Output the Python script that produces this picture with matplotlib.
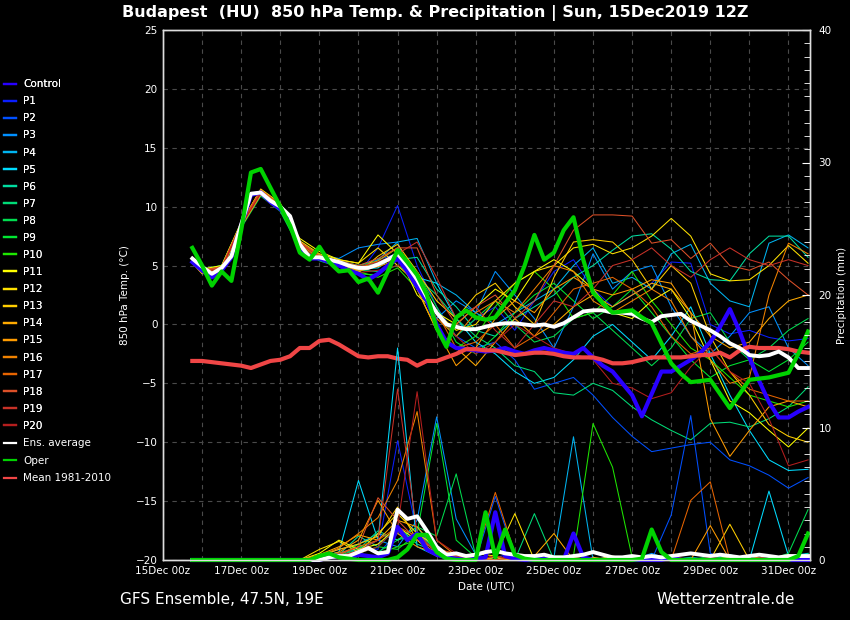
import numpy as np
import matplotlib
matplotlib.use("Agg")
import matplotlib.pyplot as plt
from matplotlib.lines import Line2D

# forecast hours since 15Dec 00z
hours_6h = np.arange(18, 397, 6)
hours_members = np.array([18, 24, 36, 48, 60, 72, 84, 96, 108, 120, 132, 144, 156, 168, 180, 192, 204,
                          216, 228, 240, 252, 264, 276, 288, 300, 312, 324, 336, 348, 360, 372, 384, 396])

date_labels = ["15Dec 00z", "17Dec 00z", "19Dec 00z", "21Dec 00z", "23Dec 00z",
               "25Dec 00z", "27Dec 00z", "29Dec 00z", "31Dec 00z"]

# 850 hPa temperature (6-hourly)
ens_avg_t = [5.6, 4.9, 4.3, 4.8, 5.8, 8.5, 11.1, 11.2, 10.5, 10.0,
             9.2, 6.8, 5.7, 5.7, 5.5, 5.3, 5.0, 4.8, 4.8, 5.1,
             5.5, 6.0, 5.0, 3.8, 2.3, 1.0, 0.0, -0.2, -0.4, -0.4,
             -0.2, 0.0, 0.1, 0.1, 0.0, -0.1, 0.0, -0.2, 0.1, 0.6,
             1.1, 1.2, 1.2, 1.0, 1.0, 0.9, 0.5, 0.2, 0.7, 0.8,
             0.9, 0.3, -0.1, -0.5, -1.0, -1.6, -2.0, -2.6, -2.7, -2.6,
             -2.3, -2.8, -3.7, -3.7]
oper_t = [6.5, 5.0, 3.3, 4.5, 3.7, 8.0, 12.9, 13.2, 11.6, 10.0,
          8.4, 6.1, 5.5, 6.6, 5.3, 4.5, 4.6, 3.6, 3.9, 2.7,
          4.5, 6.3, 5.3, 4.2, 2.5, -0.3, -1.9, 0.6, 1.2, 0.6,
          0.4, 0.6, 1.8, 2.9, 5.0, 7.6, 5.5, 6.1, 8.0, 9.1,
          5.5, 2.7, 1.8, 1.0, 1.1, 1.2, 0.6, 0.1, -1.6, -3.3,
          -4.2, -4.9, -4.8, -4.7, -5.9, -7.1, -5.9, -4.7, -4.6, -4.5,
          -4.3, -4.1, -2.5, -0.6]
control_t = [5.3, 4.6, 4.0, 4.6, 5.7, 8.4, 11.0, 11.2, 10.4, 9.8,
             9.0, 6.5, 5.6, 5.6, 5.3, 5.0, 4.6, 4.3, 3.8, 4.3,
             5.0, 5.6, 4.5, 3.2, 2.0, 0.0, -1.5, -2.0, -2.1, -2.2,
             -2.3, -2.2, -2.0, -2.3, -2.5, -2.2, -2.0, -2.2, -2.4, -2.5,
             -2.0, -2.8, -3.5, -4.0, -5.0, -6.0, -7.8, -5.9, -4.0, -4.0,
             -3.5, -3.0, -2.4, -1.5, -0.2, 1.3, -0.6, -2.8, -4.8, -6.6,
             -7.9, -7.9, -7.4, -7.0]
clim_mean_t = [-3.1, -3.1, -3.2, -3.3, -3.4, -3.5, -3.7, -3.4, -3.1, -3.0,
               -2.7, -2.0, -2.0, -1.4, -1.3, -1.7, -2.2, -2.7, -2.8, -2.7,
               -2.7, -2.9, -3.0, -3.5, -3.1, -3.1, -2.8, -2.5, -2.1, -2.1,
               -2.2, -2.2, -2.4, -2.6, -2.5, -2.4, -2.4, -2.5, -2.7, -2.8,
               -2.8, -2.8, -3.0, -3.3, -3.3, -3.2, -3.0, -2.8, -2.8, -2.8,
               -2.8, -2.7, -2.6, -2.6, -2.4, -2.8, -2.2, -1.9, -2.0, -2.0,
               -2.0, -2.1, -2.3, -2.4]

# precipitation (mm / 6h)
ens_avg_p = [0.0, 0.0, 0.0, 0.0, 0.0, 0.0, 0.0, 0.0, 0.0, 0.0, 0.0, 0.0, 0.0,
             0.0, 0.2, 0.3, 0.3, 0.6, 0.9, 0.5, 0.6, 3.8, 3.1,
             3.3, 2.2, 1.0, 0.4, 0.5, 0.3, 0.4, 0.6, 0.7, 0.5,
             0.4, 0.3, 0.3, 0.4, 0.2, 0.2, 0.3, 0.4, 0.6, 0.4,
             0.2, 0.2, 0.3, 0.2, 0.3, 0.2, 0.3, 0.4, 0.5, 0.4,
             0.3, 0.4, 0.3, 0.2, 0.3, 0.4, 0.3, 0.2, 0.3, 0.3,
             0.3]
oper_p = [0.0, 0.0, 0.0, 0.0, 0.0, 0.0, 0.0, 0.0, 0.0, 0.0, 0.0, 0.0, 0.0,
          0.3, 0.5, 0.2, 0.1, 0.0, 0.0, 0.0, 0.0, 0.2, 0.8,
          1.9, 1.9, 0.6, 0.1, 0.0, 0.0, 0.0, 3.6, 0.2, 2.3,
          0.4, 0.1, 0.0, 0.0, 0.0, 0.0, 0.0, 0.0, 0.0, 0.0,
          0.0, 0.0, 0.0, 0.1, 2.3, 0.6, 0.0, 0.0, 0.0, 0.0,
          0.0, 0.0, 0.0, 0.0, 0.0, 0.0, 0.0, 0.0, 0.0, 0.3,
          2.0]
control_p = [0.0, 0.0, 0.0, 0.0, 0.0, 0.0, 0.0, 0.0, 0.0, 0.0, 0.0, 0.0, 0.0,
             0.0, 0.2, 0.3, 0.1, 0.4, 0.3, 0.2, 0.5, 2.5, 1.5,
             2.0, 0.8, 0.4, 0.2, 0.1, 0.0, 0.1, 0.2, 3.6, 0.3,
             0.1, 0.0, 0.0, 0.1, 0.0, 0.0, 2.0, 0.2, 0.0, 0.0,
             0.0, 0.1, 0.0, 0.0, 0.0, 0.0, 0.2, 0.0, 0.0, 0.0,
             0.0, 0.0, 0.0, 0.1, 0.0, 0.0, 0.0, 0.0, 0.0, 0.0,
             0.0]

# perturbed members, temperature (12-hourly)
p1_t = [5.6, 4.5, 4.9, 8.6, 11.3, 10.2, 7.0, 5.8, 5.0, 4.3, 6.5, 10.1, 5.0, 1.5, -1.0, 0.5, 1.5,
        -0.5, 2.0, 4.5, 5.5, 3.0, 1.5, 2.5, 3.5, 5.3, 5.2, 0.0, -0.8, -0.5, -1.1, -1.4, -1.2]
p2_t = [5.4, 4.4, 4.7, 8.4, 11.0, 9.8, 6.6, 5.6, 5.4, 5.0, 5.5, 6.0, 4.0, 1.0, -1.0, -2.0, -1.5,
        -3.0, -5.5, -5.0, -4.5, -6.0, -7.9, -9.5, -10.8, -10.5, -10.2, -10.0, -11.5, -12.0, -12.8, -13.9, -13.0]
p3_t = [5.5, 4.6, 5.0, 8.6, 11.4, 10.1, 6.9, 5.9, 5.6, 6.5, 6.8, 7.0, 3.0, 0.5, 2.0, 1.0, 4.5,
        2.5, 0.5, -2.0, 1.5, 6.0, 3.0, 4.5, 5.0, 1.5, -1.0, -2.5, -1.0, 1.0, 1.5, -2.0, -3.5]
p4_t = [5.3, 4.3, 4.6, 8.3, 11.0, 9.8, 6.5, 5.5, 5.0, 4.5, 5.5, 7.0, 7.3, 3.5, 2.5, 1.0, 0.0,
        1.0, 2.0, 3.0, 5.0, 6.5, 3.5, 4.0, 3.0, 6.0, 6.8, 3.5, 2.0, 1.5, 6.9, 7.6, 6.5]
p5_t = [5.6, 4.5, 4.8, 8.5, 11.1, 9.9, 6.7, 5.8, 5.3, 4.7, 4.8, 6.0, 4.0, 3.5, 0.5, -1.5, -2.5,
        -4.0, -5.0, -4.5, -3.0, -1.0, 0.0, -1.5, -3.0, -1.0, 1.5, -2.5, -6.0, -9.0, -11.5, -12.4, -12.3]
p6_t = [5.4, 4.5, 4.7, 8.4, 11.0, 9.7, 6.6, 5.6, 5.1, 4.9, 5.2, 5.5, 5.7, 3.0, 1.5, -0.5, -1.0,
        0.5, 1.5, 2.5, 4.0, 5.0, 6.3, 7.5, 7.7, 6.4, 4.5, 3.8, 3.7, 6.0, 7.5, 7.5, 5.7]
p7_t = [5.5, 4.6, 4.9, 8.5, 11.2, 10.0, 6.8, 5.6, 5.2, 4.6, 4.5, 5.0, 4.0, 2.5, 0.5, -1.0, -2.0,
        -3.5, -4.0, -5.8, -6.0, -5.0, -5.6, -7.0, -8.1, -9.0, -9.8, -8.4, -8.3, -8.7, -8.0, -7.0, -5.3]
p8_t = [5.3, 4.4, 4.6, 8.2, 10.9, 9.6, 6.4, 5.4, 4.9, 4.3, 4.2, 5.5, 3.5, 1.0, -1.0, 0.5, 2.0,
        0.0, -1.5, -1.0, 0.5, 1.0, -0.5, -2.0, -3.5, -2.0, 0.5, 1.0, -1.5, -3.0, -2.0, -0.5, 0.5]
p9_t = [5.6, 4.7, 5.0, 8.6, 11.3, 10.1, 6.9, 5.8, 5.4, 5.0, 5.4, 6.5, 4.5, 1.5, -1.5, -2.5, -1.0,
        1.0, 2.5, 3.5, 2.0, 0.5, 1.5, 3.0, 1.0, -1.0, -3.0, -4.5, -3.5, -3.0, -4.0, -3.0, -1.5]
p10_t = [5.4, 4.5, 4.8, 8.4, 11.1, 9.9, 6.7, 5.7, 5.3, 4.5, 4.0, 4.8, 3.0, -0.5, -2.0, -1.0, 1.5,
         3.5, 4.5, 3.0, 0.5, 1.0, 2.5, 4.5, 2.0, 0.0, -2.0, -3.0, -4.5, -6.0, -6.5, -7.0, -6.5]
p11_t = [5.7, 4.7, 5.0, 8.7, 11.4, 10.1, 7.3, 6.2, 5.5, 5.2, 7.6, 6.0, 2.5, 1.0, 0.0, 1.5, 3.0,
         2.0, 4.5, 5.5, 4.5, 3.0, 1.0, 0.5, 2.0, 3.0, 0.5, -3.0, -6.5, -7.5, -9.0, -10.4, -8.8]
p12_t = [5.5, 4.6, 4.9, 8.6, 11.5, 10.3, 7.1, 6.0, 5.5, 5.2, 6.5, 5.0, 3.5, 1.0, -0.5, 0.0, 2.0,
         3.5, 4.5, 5.0, 6.5, 6.8, 6.0, 6.5, 7.5, 9.0, 7.5, 4.3, 3.7, 3.8, 5.0, 6.7, 5.2]
p13_t = [5.4, 4.5, 4.8, 8.5, 11.3, 10.0, 6.9, 5.7, 5.0, 4.4, 5.8, 6.8, 4.5, 2.0, 0.5, 2.5, 3.5,
         1.5, 0.0, 4.0, 7.0, 7.2, 7.0, 5.5, 3.0, 5.0, 3.5, -1.0, -4.0, -6.0, -8.5, -9.5, -10.0]
p14_t = [5.2, 4.3, 4.6, 8.3, 11.0, 9.8, 6.6, 5.6, 5.1, 4.5, 5.0, 6.0, 3.0, -0.5, -2.0, -3.5, -1.5,
         0.5, -1.0, 0.0, 1.5, 2.5, 1.5, 2.5, 3.5, 3.0, 1.0, -1.0, -2.0, -1.5, 0.5, 2.0, 2.5]
p15_t = [5.3, 4.4, 4.7, 8.4, 11.1, 9.9, 6.8, 5.7, 5.1, 4.6, 4.9, 5.5, 3.0, -0.5, -3.5, -2.0, 0.5,
         2.0, 1.0, 3.0, 4.0, 3.0, 2.5, 3.0, 3.8, 3.5, 1.0, -8.0, -11.2, -9.0, -7.0, -6.5, -7.0]
p16_t = [5.5, 4.6, 4.9, 8.6, 11.4, 10.2, 7.0, 5.9, 5.3, 4.8, 5.4, 6.5, 3.5, 0.5, -1.0, 1.0, 2.0,
         1.0, 3.0, 5.0, 4.5, 2.0, 1.0, 2.0, 3.0, 2.0, -1.0, -3.0, -5.0, -4.5, 2.5, 6.9, 6.0]
p17_t = [5.4, 4.5, 4.8, 8.5, 11.2, 10.0, 6.8, 5.8, 5.2, 4.7, 5.2, 5.5, 4.0, 1.0, -2.0, -1.5, 0.0,
         -2.0, -1.0, 1.0, 3.0, 3.5, 4.0, 3.0, 1.5, -1.0, -2.5, -2.0, -4.0, -5.5, -6.0, -6.5, -6.5]
p18_t = [5.6, 4.6, 4.9, 8.6, 11.4, 10.2, 7.0, 5.8, 5.4, 5.0, 5.6, 6.5, 6.5, 2.5, 0.0, 1.5, 2.5,
         0.5, 2.0, 5.0, 8.0, 9.3, 9.3, 9.2, 6.9, 7.2, 5.6, 6.9, 5.0, 4.6, 5.3, 3.8, 2.5]
p19_t = [5.5, 4.5, 4.8, 8.5, 11.2, 10.0, 6.9, 5.7, 5.3, 4.9, 5.3, 6.0, 7.0, 4.0, 0.5, 1.5, -0.5,
         -2.0, 0.0, 2.0, 1.5, 3.0, 5.0, 5.5, 6.5, 5.0, 4.0, 5.5, 6.5, 5.5, 5.0, 5.5, 5.0]
p20_t = [5.3, 4.4, 4.7, 8.4, 11.1, 9.9, 6.7, 5.5, 5.0, 4.4, 4.6, 5.0, 4.5, 1.0, -1.0, -2.5, -1.5,
         0.0, -1.0, -2.0, -2.5, -3.0, -5.0, -5.4, -6.3, -5.8, -3.6, -2.0, -4.0, -5.0, -8.0, -12.0, -11.5]

# perturbed members, precipitation (12-hourly)
p1_p = [0.0, 0.0, 0.0, 0.0, 0.0, 0.0, 0.0, 0.2, 0.5, 1.0, 0.8, 9.0, 2.0, 0.5, 0.3, 0.0, 0.2,
        0.5, 0.0, 0.0, 0.0, 0.0, 0.3, 0.0, 0.0, 0.0, 0.2, 0.0, 0.0, 0.0, 0.0, 0.0, 0.0]
p2_p = [0.0, 0.0, 0.0, 0.0, 0.0, 0.0, 0.0, 0.3, 0.8, 1.2, 0.5, 2.0, 1.5, 0.8, 0.2, 0.0, 4.8,
        0.3, 0.0, 0.0, 0.0, 0.0, 0.0, 0.0, 0.0, 3.4, 10.9, 0.5, 0.0, 0.0, 0.0, 0.0, 0.2]
p3_p = [0.0, 0.0, 0.0, 0.0, 0.0, 0.0, 0.0, 0.0, 0.5, 0.8, 1.5, 1.0, 3.0, 10.8, 3.1, 0.4, 0.0,
        0.3, 0.0, 0.0, 0.2, 0.0, 0.0, 0.0, 0.5, 0.0, 0.0, 0.0, 0.0, 0.3, 0.0, 0.0, 0.0]
p4_p = [0.0, 0.0, 0.0, 0.0, 0.0, 0.0, 0.0, 0.0, 0.3, 1.2, 2.0, 1.5, 2.5, 0.5, 0.2, 0.3, 0.0,
        0.0, 0.0, 0.2, 9.3, 0.0, 0.0, 0.0, 0.0, 0.0, 0.0, 0.0, 0.2, 0.0, 0.0, 0.3, 0.5]
p5_p = [0.0, 0.0, 0.0, 0.0, 0.0, 0.0, 0.0, 0.2, 0.6, 6.0, 1.5, 16.0, 1.0, 0.3, 0.5, 0.2, 0.0,
        0.4, 0.0, 0.0, 0.0, 0.0, 0.0, 0.0, 0.0, 0.2, 0.0, 0.0, 0.0, 0.0, 5.2, 0.3, 0.0]
p6_p = [0.0, 0.0, 0.0, 0.0, 0.0, 0.0, 0.0, 0.0, 0.4, 1.8, 1.0, 2.5, 1.2, 0.6, 0.0, 0.3, 0.0,
        0.0, 0.2, 0.0, 0.0, 0.0, 0.0, 0.3, 0.0, 0.0, 0.0, 0.0, 0.4, 0.0, 0.0, 0.0, 0.5]
p7_p = [0.0, 0.0, 0.0, 0.0, 0.0, 0.0, 0.0, 0.0, 0.3, 0.8, 2.2, 1.5, 2.0, 0.8, 0.2, 0.0, 0.3,
        0.0, 3.5, 0.0, 0.0, 0.0, 0.0, 0.0, 0.0, 0.0, 0.2, 0.0, 0.0, 0.3, 0.0, 0.0, 0.0]
p8_p = [0.0, 0.0, 0.0, 0.0, 0.0, 0.0, 0.0, 0.0, 0.2, 1.0, 0.6, 1.5, 2.5, 1.8, 6.5, 0.3, 0.0,
        0.2, 0.0, 0.0, 0.0, 0.0, 0.0, 0.0, 0.0, 0.0, 0.0, 0.3, 0.0, 0.0, 0.0, 0.5, 3.8]
p9_p = [0.0, 0.0, 0.0, 0.0, 0.0, 0.0, 0.0, 0.0, 0.4, 0.5, 1.0, 0.8, 2.0, 10.3, 1.5, 0.2, 0.0,
        0.0, 0.0, 0.3, 0.0, 0.0, 0.0, 0.0, 0.2, 0.0, 0.0, 0.0, 0.0, 0.0, 0.0, 0.0, 0.2]
p10_p = [0.0, 0.0, 0.0, 0.0, 0.0, 0.0, 0.0, 0.0, 0.3, 1.2, 0.5, 1.0, 1.5, 0.8, 0.3, 0.0, 0.2,
         0.0, 0.0, 0.3, 0.3, 10.3, 7.0, 0.2, 0.0, 0.0, 0.0, 0.0, 0.3, 0.0, 0.0, 0.0, 0.0]
p11_p = [0.0, 0.0, 0.0, 0.0, 0.0, 0.0, 0.0, 0.5, 1.5, 0.8, 1.2, 2.5, 1.5, 0.3, 0.0, 0.2, 0.0,
         0.0, 0.0, 0.0, 0.0, 0.0, 0.3, 0.0, 0.0, 0.0, 0.0, 0.0, 0.2, 0.0, 0.0, 0.0, 0.0]
p12_p = [0.0, 0.0, 0.0, 0.0, 0.0, 0.0, 0.0, 0.8, 1.4, 0.6, 2.0, 3.5, 2.0, 1.0, 0.2, 0.5, 0.3,
         3.5, 0.0, 0.0, 0.0, 0.0, 0.0, 0.2, 0.0, 0.0, 0.0, 0.0, 0.0, 0.0, 0.0, 0.4, 0.0]
p13_p = [0.0, 0.0, 0.0, 0.0, 0.0, 0.0, 0.0, 0.3, 0.8, 1.2, 1.8, 4.0, 1.5, 0.5, 0.0, 0.3, 0.0,
         0.5, 0.0, 0.0, 0.0, 0.2, 0.0, 0.0, 0.0, 0.0, 0.0, 0.0, 2.7, 0.0, 0.0, 0.0, 0.0]
p14_p = [0.0, 0.0, 0.0, 0.0, 0.0, 0.0, 0.0, 0.4, 1.0, 1.9, 1.5, 3.0, 2.5, 0.8, 0.3, 0.0, 0.2,
         0.0, 0.3, 2.0, 0.0, 0.0, 0.0, 0.0, 0.0, 0.2, 0.0, 0.0, 0.0, 0.0, 0.0, 0.0, 0.0]
p15_p = [0.0, 0.0, 0.0, 0.0, 0.0, 0.0, 0.0, 0.2, 0.6, 1.5, 4.5, 2.0, 1.0, 0.5, 0.2, 0.0, 0.0,
         0.2, 0.0, 0.0, 0.0, 0.0, 0.0, 0.0, 0.0, 0.0, 0.0, 2.6, 0.0, 0.0, 0.0, 0.0, 0.0]
p16_p = [0.0, 0.0, 0.0, 0.0, 0.0, 0.0, 0.0, 0.3, 0.9, 2.0, 3.2, 6.0, 11.2, 1.5, 0.3, 0.2, 0.0,
         0.0, 0.0, 0.0, 0.2, 0.0, 0.0, 0.0, 0.0, 0.0, 0.0, 0.0, 0.0, 0.3, 0.0, 0.0, 0.0]
p17_p = [0.0, 0.0, 0.0, 0.0, 0.0, 0.0, 0.0, 0.0, 0.5, 1.0, 1.5, 2.5, 1.8, 0.6, 0.2, 0.3, 5.1,
         0.5, 0.0, 0.0, 0.0, 0.0, 0.0, 0.0, 0.0, 0.0, 4.5, 5.9, 0.0, 0.0, 0.0, 0.0, 0.0]
p18_p = [0.0, 0.0, 0.0, 0.0, 0.0, 0.0, 0.0, 0.0, 0.4, 1.0, 4.7, 3.0, 1.5, 0.8, 0.5, 0.0, 0.3,
         0.0, 0.0, 0.0, 0.0, 0.0, 0.2, 0.0, 0.0, 0.0, 0.0, 0.0, 0.0, 0.0, 0.3, 0.0, 0.0]
p19_p = [0.0, 0.0, 0.0, 0.0, 0.0, 0.0, 0.0, 0.0, 0.3, 0.7, 1.5, 12.9, 2.0, 0.6, 0.3, 0.0, 0.0,
         0.2, 0.0, 0.0, 0.0, 0.0, 0.0, 0.0, 0.0, 0.3, 0.0, 0.0, 0.0, 0.0, 0.0, 0.0, 0.0]
p20_p = [0.0, 0.0, 0.0, 0.0, 0.0, 0.0, 0.0, 0.0, 0.2, 0.5, 1.0, 2.5, 12.7, 1.5, 0.5, 0.0, 0.3,
         0.0, 0.0, 0.0, 0.0, 0.0, 0.0, 0.0, 0.0, 0.0, 0.0, 0.2, 0.0, 0.0, 0.0, 0.0, 0.0]

member_names = ["P%d" % i for i in range(1, 21)]
member_t = [p1_t, p2_t, p3_t, p4_t, p5_t, p6_t, p7_t, p8_t, p9_t, p10_t,
            p11_t, p12_t, p13_t, p14_t, p15_t, p16_t, p17_t, p18_t, p19_t, p20_t]
member_p = [p1_p, p2_p, p3_p, p4_p, p5_p, p6_p, p7_p, p8_p, p9_p, p10_p,
            p11_p, p12_p, p13_p, p14_p, p15_p, p16_p, p17_p, p18_p, p19_p, p20_p]
member_colors = ["#0a1eff", "#0050ff", "#0090ff", "#00b4f0", "#00dcff",
                 "#00dca0", "#00dc78", "#00dc50", "#00e632", "#1ee600",
                 "#ffff00", "#ffe100", "#ffcd00", "#ffaa00", "#ff9b00",
                 "#f08200", "#e66400", "#dc5028", "#c83228", "#b41e1e"]
control_color = "#2800ff"
oper_color = "#00d200"
clim_color = "#f04646"

fig = plt.figure(figsize=(8.5, 6.2), dpi=100, facecolor="black")
ax = fig.add_axes([163 / 850, 60 / 620, 647 / 850, 530 / 620])
ax.set_facecolor("black")
ax2 = ax.twinx()

days6 = hours_6h / 24.0
days12 = hours_members / 24.0

# temperature
for vals, col in zip(member_t, member_colors):
    ax.plot(days12, vals, color=col, lw=0.75)
ax.plot(days6, control_t, color=control_color, lw=3.0)
ax.plot(days6, clim_mean_t, color=clim_color, lw=3.0)
ax.plot(days6, ens_avg_t, color="white", lw=2.8)
ax.plot(days6, oper_t, color=oper_color, lw=3.0)

# precipitation on right axis
for vals, col in zip(member_p, member_colors):
    ax2.plot(days12, vals, color=col, lw=0.75, clip_on=False)
ax2.plot(days6, control_p, color=control_color, lw=3.0, clip_on=False)
ax2.plot(days6, ens_avg_p, color="white", lw=2.8, clip_on=False)
ax2.plot(days6, oper_p, color=oper_color, lw=3.0, clip_on=False)

ax.set_xlim(0, 16.55)
ax.set_ylim(-20, 25)
ax2.set_ylim(0, 40)

ax.set_xticks(np.arange(0, 17, 2))
ax.set_xticklabels(date_labels)
ax.set_xticks(np.arange(1, 17, 2), minor=True)
ax.set_yticks(np.arange(-20, 26, 5))
ax2.set_yticks(np.arange(0, 41, 10))
ax2.set_yticks(np.arange(0, 41, 1), minor=True)

ax.grid(True, which="both", color="#4a4a4a", linestyle=(0, (4, 4)), lw=0.8)
ax.tick_params(axis="both", which="both", length=0, colors="white", labelsize=7.5, pad=4)
ax2.tick_params(axis="y", which="major", direction="in", length=6, colors="white", labelsize=7.5, pad=6)
ax2.tick_params(axis="y", which="minor", direction="in", length=4, colors="white")

for a in (ax, ax2):
    for sp in a.spines.values():
        sp.set_color("#dddddd")
        sp.set_linewidth(1.0)

ax.set_ylabel("850 hPa Temp. (°C)", color="white", fontsize=7.5, labelpad=4)
ax2.set_ylabel("Precipitation (mm)", color="white", fontsize=7.5, labelpad=4)
ax.set_xlabel("Date (UTC)", color="white", fontsize=7.5, labelpad=4)

fig.text(0.512, 0.979, "Budapest  (HU)  850 hPa Temp. & Precipitation | Sun, 15Dec2019 12Z",
         color="white", fontsize=11.5, fontweight="bold", ha="center", va="center")
fig.text(120 / 850, 1 - 600 / 620, "GFS Ensemble, 47.5N, 19E", color="white", fontsize=11,
         ha="left", va="center")
fig.text(795 / 850, 1 - 600 / 620, "Wetterzentrale.de", color="white", fontsize=11,
         ha="right", va="center")

handles1 = [Line2D([], [], color=control_color, lw=1.6)]
handles1 += [Line2D([], [], color=c, lw=1.6) for c in member_colors]
labels1 = ["Control"] + member_names
handles2 = [Line2D([], [], color="white", lw=1.6), Line2D([], [], color=oper_color, lw=1.6),
            Line2D([], [], color=clim_color, lw=1.6)]
labels2 = ["Ens. average", "Oper", "Mean 1981-2010"]

leg1 = fig.legend(handles1, labels1, loc="upper left", bbox_to_anchor=(0.0, 1 - 75 / 620),
                  frameon=False, fontsize=7.5, labelcolor="white", handlelength=1.15,
                  handletextpad=0.7, labelspacing=0.68, borderaxespad=0.0)
fig.add_artist(leg1)
fig.legend(handles2, labels2, loc="upper left", bbox_to_anchor=(0.0, 1 - 434 / 620),
           frameon=False, fontsize=7.5, labelcolor="white", handlelength=1.15,
           handletextpad=0.7, labelspacing=0.72, borderaxespad=0.0)

fig.savefig("out.png", dpi=100, facecolor="black")
